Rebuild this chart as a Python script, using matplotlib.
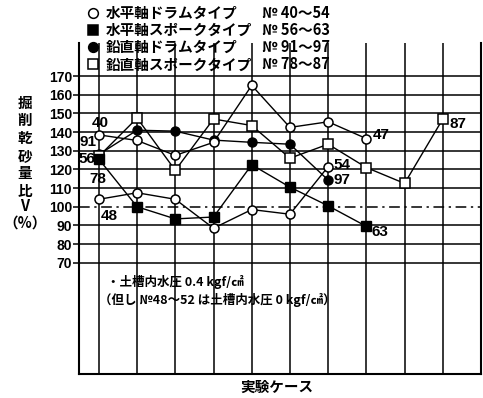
import matplotlib.pyplot as plt
from matplotlib.lines import Line2D

plt.rcParams['font.family'] = ['Noto Sans CJK JP', 'DejaVu Sans']

# excavated dry sand ratio V (%) per test case
drum_h_a = [138.5, 135.5, 127.5, 134.5, 165, 142.5, 145.5, 136.5]   # No.40-47
drum_h_b = [104, 107.5, 104, 88.5, 98.5, 96, 121.5]                # No.48-54
spoke_h = [125.5, 100, 93.5, 94.5, 122.5, 110.5, 100.5, 89.5]      # No.56-63
drum_v = [128, 141, 140.5, 135.7, 134.5, 133.5, 114.3]             # No.91-97
spoke_v = [127, 147.5, 119.5, 147, 143.5, 126, 133.5, 121, 112.5, 147]  # No.78-87

legend_names = ["水平軸ドラムタイプ", "水平軸スポークタイプ", "鉛直軸ドラムタイプ", "鉛直軸スポークタイプ"]
legend_nos = ["№ 40～54", "№ 56～63", "№ 91～97", "№ 78～87"]
yticks = list(range(70, 171, 10))

W, H = 483, 398
fig = plt.figure(figsize=(W / 100, H / 100), dpi=100)
ax = fig.add_axes([79 / W, 1 - 373.5 / H, (481 - 79) / W, (373.5 - 43) / H])
ax.set_xlim(0.48, 11)
ax.set_ylim(10.7, 187.7)

# grid
for x in range(1, 11):
    ax.axvline(x, color='black', lw=1.1, zorder=1)
for y in yticks:
    if y == 100:
        ax.plot([0.48, 11], [y, y], color='black', lw=1.1, ls=(0, (7, 3, 1.5, 3)), zorder=1)
    else:
        ax.plot([0.48, 11], [y, y], color='black', lw=1.1, zorder=1)

ax.spines['top'].set_visible(False)
for s in ['left', 'bottom', 'right']:
    ax.spines[s].set_linewidth(1.5)
ax.set_xticks([])
ax.set_yticks(yticks)
ax.set_yticklabels([str(v) for v in yticks], family='Liberation Sans', fontweight='bold', fontsize=10)
ax.tick_params(axis='y', length=4, width=1.1, pad=1)

lw = 1.0
ax.plot(range(1, len(drum_v) + 1), drum_v, color='black', lw=lw, marker='o', ms=6.5,
        mfc='black', mec='black', zorder=3)
ax.plot(range(1, len(drum_h_a) + 1), drum_h_a, color='black', lw=lw, marker='o', ms=6.5,
        mfc='white', mec='black', mew=1.1, zorder=4)
ax.plot(range(1, len(drum_h_b) + 1), drum_h_b, color='black', lw=lw, marker='o', ms=6.5,
        mfc='white', mec='black', mew=1.1, zorder=4)
ax.plot(range(1, len(spoke_v) + 1), spoke_v, color='black', lw=lw, marker='s', ms=6.5,
        mfc='white', mec='black', mew=1.1, zorder=5)
ax.plot(range(1, len(spoke_h) + 1), spoke_h, color='black', lw=lw, marker='s', ms=7,
        mfc='black', mec='black', zorder=6)

lab = dict(textcoords='offset pixels', ha='center', va='center', family='Liberation Sans',
           fontweight='bold', fontsize=11, zorder=7)
ax.annotate("40", (1, drum_h_a[0]), xytext=(1, 12), **lab)
ax.annotate("47", (8, drum_h_a[-1]), xytext=(15, 4), **lab)
ax.annotate("48", (1, drum_h_b[0]), xytext=(10, -17), **lab)
ax.annotate("54", (7, drum_h_b[-1]), xytext=(14, 2), **lab)
ax.annotate("56", (1, spoke_h[0]), xytext=(-12, 0), **lab)
ax.annotate("63", (8, spoke_h[-1]), xytext=(14, -6), **lab)
ax.annotate("91", (1, drum_v[0]), xytext=(-11, 12), **lab)
ax.annotate("97", (7, drum_v[-1]), xytext=(14, 0), **lab)
ax.annotate("78", (1, spoke_v[0]), xytext=(-1, -23), **lab)
ax.annotate("87", (10, spoke_v[-1]), xytext=(15, -5), **lab)

# legend
styles = [dict(marker='o', mfc='white'), dict(marker='s', mfc='black'),
          dict(marker='o', mfc='black'), dict(marker='s', mfc='white')]
for i, (name, no, st) in enumerate(zip(legend_names, legend_nos, styles)):
    py = 12.7 + i * 17.2
    fy = 1 - py / H
    fig.add_artist(Line2D([93 / W], [fy], transform=fig.transFigure, ls='none',
                          mec='black', mew=1.1, ms=7, **st))
    fig.text(106 / W, fy, name, ha='left', va='center', fontsize=10.5, fontweight='bold')
    fig.text(262 / W, fy, no, ha='left', va='center', fontsize=10.5, fontweight='bold')

# note
ax.text(107 / W, 1 - 281.7 / H, "・土槽内水圧 0.4 kgf/㎠", transform=fig.transFigure,
        ha='left', va='center', fontsize=9, fontweight='bold')
ax.text(99 / W, 1 - 300 / H, "（但し №48～52 は土槽内水圧 0 kgf/㎠）", transform=fig.transFigure,
        ha='left', va='center', fontsize=9, fontweight='bold')

# y label, stacked vertically
ychars = ["掘", "削", "乾", "砂", "量", "比", "V", "（%）"]
ypos = [103, 120, 138, 156, 173, 191, 206, 223]
for ch, py in zip(ychars, ypos):
    fig.text(25 / W, 1 - py / H, ch, ha='center', va='center', fontsize=10.5, fontweight='bold')

fig.text(277 / W, 1 - 387 / H, "実験ケース", ha='center', va='center', fontsize=10.5, fontweight='bold')

fig.savefig("out.png", dpi=100)
